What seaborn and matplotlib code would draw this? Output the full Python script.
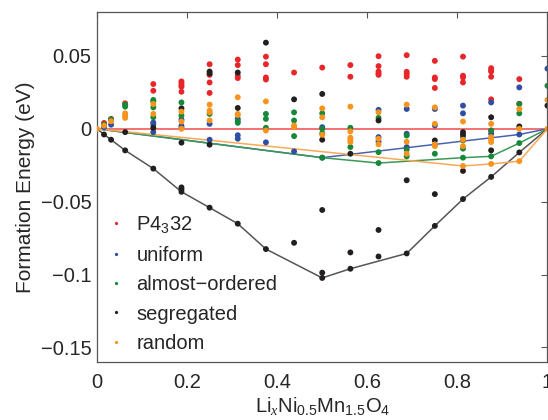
import matplotlib
matplotlib.use("Agg")
import matplotlib.pyplot as plt
import seaborn as sns
import pandas as pd

sns.set_style("white")
plt.rcParams['font.family'] = ['Liberation Sans', 'DejaVu Sans']
plt.rcParams['mathtext.fontset'] = 'custom'
plt.rcParams['mathtext.rm'] = 'Liberation Sans'
plt.rcParams['mathtext.it'] = 'Liberation Serif:italic'

# ---- data: (x, formation energy) per structure type ----
p4332_x = [1/64, 1/32, 1/16, 1/16, 0.125, 0.125, 0.1875, 0.1875, 0.1875, 0.1875, 0.1875,
           0.25, 0.25, 0.25, 0.25, 0.3125, 0.3125, 0.3125, 0.3125, 0.375, 0.375, 0.375, 0.375,
           0.4375, 0.5, 0.5625, 0.5625, 0.625, 0.625, 0.625, 0.625, 0.625,
           0.6875, 0.6875, 0.6875, 0.6875, 0.75, 0.75, 0.75, 0.75, 0.8125, 0.8125, 0.8125, 0.8125,
           0.875, 0.875, 0.875, 0.875, 0.875, 0.875, 0.9375, 0.9375]
p4332_y = [0.004, 0.0068, 0.0175, 0.0166, 0.0307, 0.0261, 0.0325, 0.0311, 0.0297, 0.0289, 0.0254,
           0.0443, 0.037, 0.0318, 0.0246, 0.0475, 0.0437, 0.0364, 0.0348, 0.0495, 0.0443, 0.0352, 0.0338,
           0.0386, 0.042, 0.0437, 0.0357, 0.0498, 0.043, 0.0393, 0.0379, 0.037,
           0.0505, 0.0391, 0.0375, 0.0357, 0.0466, 0.0352, 0.0341, 0.028, 0.0495, 0.0364, 0.0352, 0.0318,
           0.0416, 0.0402, 0.0393, 0.0357, 0.0202, -0.0012, 0.0341, 0.0172]

uniform_x = [1/64, 1/32, 0.125, 0.125, 0.125, 0.1875, 0.1875, 0.1875, 0.25, 0.25,
             0.3125, 0.3125, 0.3125, 0.375, 0.4375, 0.5, 0.5, 0.625, 0.625, 0.625,
             0.6875, 0.6875, 0.6875, 0.75, 0.75, 0.75, 0.8125, 0.8125, 0.8125,
             0.875, 0.875, 0.9375, 0.9375, 1.0]
uniform_y = [0.0011, 0.0028, 0.0043, 0.0029, -0.0023, 0.0063, 0.002, 0.0007, 0.0034, -0.0075,
             0.0068, -0.0044, -0.0068, -0.0093, -0.0155, 0.0011, -0.0198, 0.013, -0.0057, -0.0087,
             0.0136, -0.0034, -0.0125, 0.0136, 0.0023, -0.011, 0.0159, 0.0106, -0.0053,
             0.0181, -0.0034, 0.0284, -0.0039, 0.0413]

almost_x = [1/64, 1/32, 1/16, 1/16, 0.125, 0.125, 0.125, 0.125, 0.1875, 0.1875, 0.25,
            0.3125, 0.3125, 0.375, 0.375, 0.375, 0.4375, 0.4375, 0.4375,
            0.5, 0.5, 0.5, 0.5, 0.5625, 0.5625, 0.625, 0.625, 0.625,
            0.6875, 0.6875, 0.6875, 0.75, 0.8125, 0.8125, 0.8125, 0.875, 0.875,
            0.9375, 0.9375, 0.9375, 1.0]
almost_y = [0.003, 0.0065, 0.0166, 0.0152, 0.0198, 0.0188, 0.0147, 0.0079, 0.0181, 0.0091, 0.0102,
            0.0052, 0.0041, 0.0102, 0.0068, 0.0007, 0.0113, 0.0057, -0.005,
            0.0106, 0.0, -0.0031, -0.0198, 0.0007, -0.0125, 0.0075, -0.016, -0.0235,
            -0.0046, -0.0143, -0.0189, -0.0171, -0.008, -0.0136, -0.0198, -0.0012, -0.0189,
            0.017, 0.0106, -0.0098, 0.0295]

segregated_x = [1/64, 1/32, 1/16, 1/16, 0.125, 0.125, 0.1875, 0.1875, 0.1875, 0.1875, 0.1875,
                0.25, 0.25, 0.25, 0.25, 0.3125, 0.3125, 0.3125, 0.375, 0.375, 0.4375, 0.4375,
                0.5, 0.5, 0.5, 0.5, 0.5, 0.5625, 0.5625, 0.5625, 0.625, 0.625, 0.625,
                0.6875, 0.6875, 0.75, 0.75, 0.75, 0.8125, 0.8125, 0.8125, 0.8125,
                0.875, 0.875, 0.875, 0.9375, 0.9375, 1.0]
segregated_y = [-0.0039, -0.0075, -0.0023, -0.0148, 0.0007, -0.0273, 0.014, -0.0095, -0.0402, -0.0416, -0.0432,
                0.0393, 0.0379, -0.0109, -0.0541, 0.0386, 0.0143, -0.0651, 0.0591, -0.0825, 0.0202, -0.0782,
                0.0239, -0.0075, -0.0557, -0.0987, -0.1023, -0.0171, -0.0848, -0.096, 0.0057, -0.0694, -0.0876,
                -0.0353, -0.0855, -0.008, -0.0448, -0.0666, -0.0023, -0.0039, -0.0289, -0.0482,
                0.0079, -0.0148, -0.033, 0.0016, -0.0162, 0.0159]

random_x = [1/64, 1/32, 1/16, 1/16, 1/16, 0.125, 0.125, 0.1875, 0.1875, 0.1875,
            0.25, 0.25, 0.25, 0.25, 0.3125, 0.3125, 0.3125, 0.375, 0.375, 0.4375, 0.4375,
            0.5, 0.5, 0.5, 0.5625, 0.5625, 0.5625, 0.5625, 0.5625, 0.625, 0.625, 0.625,
            0.6875, 0.6875, 0.6875, 0.75, 0.75, 0.75, 0.75, 0.8125, 0.8125, 0.8125, 0.8125,
            0.875, 0.875, 0.875, 0.875, 0.875, 0.9375, 0.9375, 0.9375, 1.0, 0.0, 1.0]
random_y = [0.0022, 0.0052, 0.0106, 0.009, 0.0075, 0.017, 0.0102, 0.0118, 0.005, 0.0,
            0.0166, 0.0125, 0.0113, 0.0057, 0.0216, 0.0102, 0.0095, 0.0188, -0.0012, 0.0023, 0.0011,
            0.014, 0.0079, -0.0041, 0.0152, -0.0018, -0.0061, -0.0075, -0.0091, 0.0113, -0.0068, -0.0107,
            0.0166, -0.0089, -0.0171, 0.0147, 0.0034, -0.0107, -0.0119, 0.005, -0.0075, -0.0119, -0.0255,
            0.0034, -0.0057, -0.0075, -0.0091, -0.0241, 0.0136, 0.0, -0.0222, 0.0198, 0.0, 0.0]

# hull (ground-state) lines
p4332_hull_x = [0, 1]
p4332_hull_y = [0, 0]
uniform_hull_x = [0, 0.5, 0.9375, 1]
uniform_hull_y = [0, -0.0198, -0.0039, 0]
almost_hull_x = [0, 0.5, 0.625, 0.8125, 0.875, 0.9375, 1]
almost_hull_y = [0, -0.0198, -0.0235, -0.0198, -0.0189, -0.0098, 0]
segregated_hull_x = [0, 1/64, 1/32, 1/16, 0.125, 0.1875, 0.25, 0.3125, 0.375, 0.5, 0.5625,
                     0.6875, 0.75, 0.8125, 0.875, 0.9375, 1]
segregated_hull_y = [0, -0.0039, -0.0075, -0.0148, -0.0273, -0.0432, -0.0541, -0.0651, -0.0825,
                     -0.1023, -0.096, -0.0855, -0.0666, -0.0482, -0.033, -0.0162, 0]
random_hull_x = [0, 0.8125, 0.875, 0.9375, 1]
random_hull_y = [0, -0.0255, -0.0241, -0.0222, 0]

labels = ["P4$_3$32", "uniform", "almost\u2212ordered", "segregated", "random"]
point_colors = ["#e8262a", "#2f4ea3", "#17883a", "#231f20", "#f7941d"]
line_colors = ["#f04a4a", "#4a63b0", "#3a9a55", "#555555", "#f9a957"]

xs = [p4332_x, uniform_x, almost_x, segregated_x, random_x]
ys = [p4332_y, uniform_y, almost_y, segregated_y, random_y]
hx = [p4332_hull_x, uniform_hull_x, almost_hull_x, segregated_hull_x, random_hull_x]
hy = [p4332_hull_y, uniform_hull_y, almost_hull_y, segregated_hull_y, random_hull_y]

frames = []
for lab, x, y in zip(labels, xs, ys):
    frames.append(pd.DataFrame({"x": x, "E": y, "type": lab}))
df = pd.concat(frames, ignore_index=True)

hframes = []
for lab, x, y in zip(labels, hx, hy):
    hframes.append(pd.DataFrame({"x": x, "E": y, "type": lab}))
hdf = pd.concat(hframes, ignore_index=True)

fig = plt.figure(figsize=(5.48, 4.2), dpi=100)
ax = fig.add_axes([0.177, 0.138, 0.822, 0.833])

sns.lineplot(data=hdf, x="x", y="E", hue="type", hue_order=labels,
             palette=dict(zip(labels, line_colors)), linewidth=1.1,
             legend=False, ax=ax, zorder=2, sort=False, estimator=None)
sns.scatterplot(data=df, x="x", y="E", hue="type", hue_order=labels,
                palette=dict(zip(labels, point_colors)), s=18, linewidth=0,
                ax=ax, zorder=3)

ax.set_xlim(0, 1)
ax.set_ylim(-0.16, 0.08)
ax.set_xticks([0, 0.2, 0.4, 0.6, 0.8, 1.0])
ax.set_xticklabels(["0", "0.2", "0.4", "0.6", "0.8", "1"])
ax.set_yticks([-0.15, -0.1, -0.05, 0, 0.05])
ax.set_yticklabels(["\u22120.15", "\u22120.1", "\u22120.05", "0", "0.05"])
ax.tick_params(direction="in", length=4, width=0.8, color="#555555",
               labelsize=14.5, top=True, right=True, pad=4)
ax.tick_params(axis="x", pad=8)
for sp in ax.spines.values():
    sp.set_color("#555555")
    sp.set_linewidth(0.9)

ax.set_xlabel(r"Li$_{\mathit{x}}$Ni$_{0.5}$Mn$_{1.5}$O$_4$", fontsize=14.5, labelpad=2)
ax.set_ylabel("Formation Energy (eV)", fontsize=15, labelpad=4)

leg = ax.legend(loc="lower left", bbox_to_anchor=(0.0, 0.0), frameon=False,
                fontsize=14.5, markerscale=0.55, handletextpad=0.5,
                labelspacing=0.52, borderaxespad=0.05, handlelength=1.0)

fig.savefig("out.png", dpi=100)
